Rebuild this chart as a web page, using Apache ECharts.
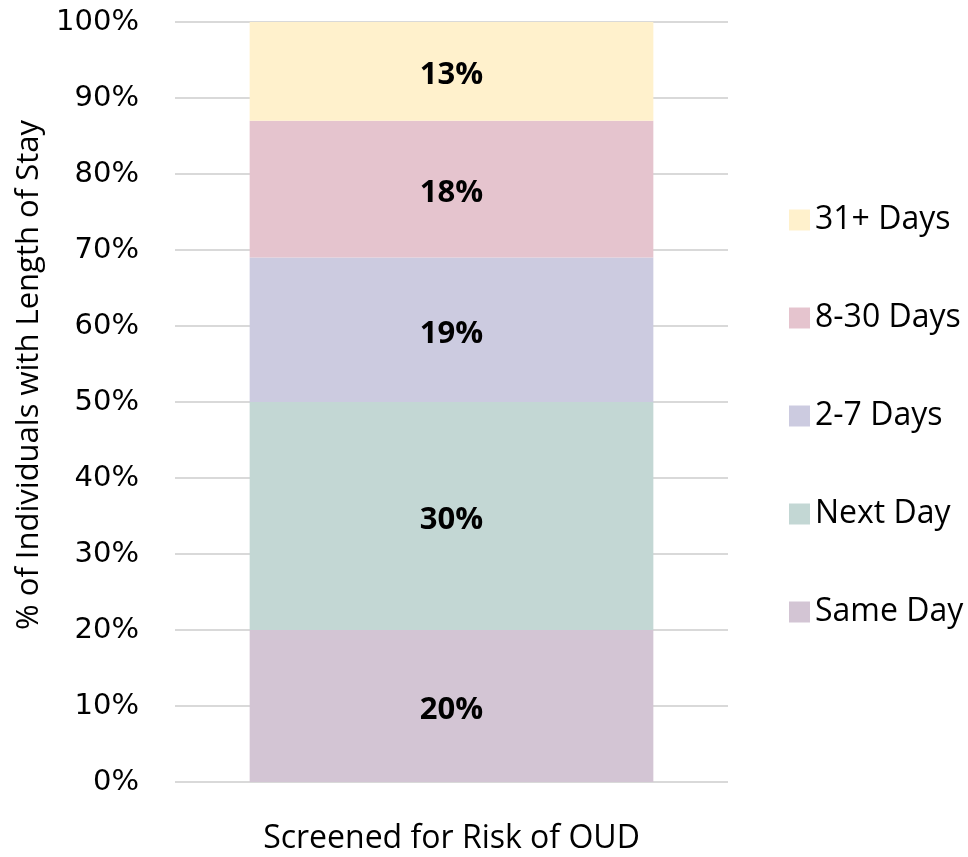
<!DOCTYPE html>
<html>
<head>
<meta charset="utf-8">
<script src="https://cdn.jsdelivr.net/npm/echarts@6/dist/echarts.min.js"></script>
<style>
  html, body { margin: 0; padding: 0; background: #fff; }
  #chart { width: 968px; height: 857px; }
</style>
</head>
<body>
<div id="chart"></div>
<script>
// data
var categories = ['Screened for Risk of OUD'];
var seriesNames = ['Same Day', 'Next Day', '2-7 Days', '8-30 Days', '31+ Days'];
var sameDay = [20];
var nextDay = [30];
var twoToSeven = [19];
var eightToThirty = [18];
var thirtyOnePlus = [13];
var yTicks = [0, 10, 20, 30, 40, 50, 60, 70, 80, 90, 100];

var colors = ['#d3c5d4', '#c3d7d4', '#cccbe0', '#e5c4ce', '#fff1cc'];
var values = [sameDay, nextDay, twoToSeven, eightToThirty, thirtyOnePlus];

var myChart = echarts.init(document.getElementById('chart'));

var series = seriesNames.map(function (name, i) {
    return {
        name: name,
        type: 'bar',
        stack: 'total',
        barWidth: '73%',
        itemStyle: { color: colors[i] },
        label: {
            show: true,
            position: 'inside',
            offset: [0, 4],
            formatter: '{c}%',
            color: '#000',
            fontWeight: 'bold',
            fontSize: 31,
            fontFamily: 'Open Sans'
        },
        data: values[i]
    };
});

myChart.setOption({
    backgroundColor: '#FFFFFF',
    animation: false,
    color: colors,
    grid: {
        left: 175,
        right: 240,
        top: 22,
        bottom: 75
    },
    legend: {
        orient: 'vertical',
        left: 784,
        top: 199,
        itemWidth: 21,
        itemHeight: 21,
        itemGap: 66,
        icon: 'rect',
        textStyle: { fontSize: 32, color: '#000', fontFamily: 'Open Sans' },
        data: seriesNames.slice().reverse()
    },
    xAxis: {
        type: 'category',
        data: categories,
        axisLine: { show: false },
        axisTick: { show: false },
        axisLabel: {
            fontSize: 32,
            color: '#000',
            fontFamily: 'Open Sans',
            margin: 41
        }
    },
    yAxis: {
        type: 'value',
        min: yTicks[0],
        max: yTicks[yTicks.length - 1],
        interval: 10,
        name: '% of Individuals with Length of Stay',
        nameLocation: 'middle',
        nameGap: 130,
        nameTextStyle: {
            fontSize: 31,
            color: '#000',
            fontFamily: 'Open Sans',
            padding: [0, 0, 0, 54]
        },
        axisLine: { show: false },
        axisTick: { show: false },
        splitLine: { lineStyle: { color: '#d9d9d9', width: 2 } },
        axisLabel: {
            formatter: '{value}%',
            fontSize: 29,
            color: '#000',
            fontFamily: 'DejaVu Sans',
            margin: 36
        }
    },
    series: series
});
</script>
</body>
</html>
